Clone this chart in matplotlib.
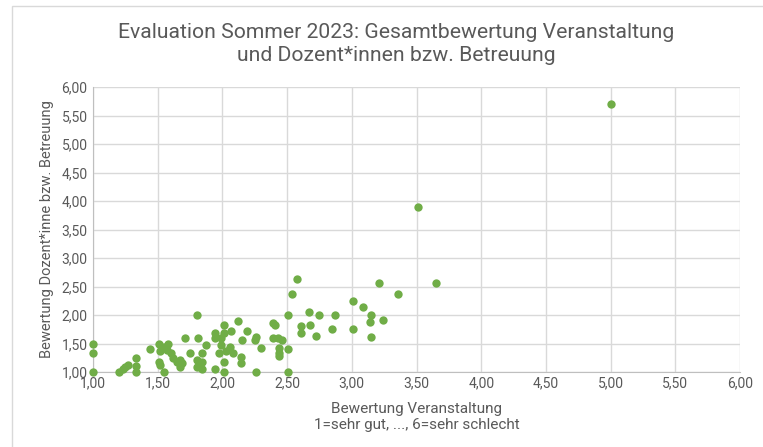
import matplotlib
matplotlib.use("Agg")
import matplotlib.pyplot as plt
from matplotlib.patches import Rectangle
from matplotlib.ticker import FuncFormatter, MultipleLocator

# Data: (Bewertung Veranstaltung, Bewertung Dozent*innen)
veranstaltung = [
    1.00, 1.00, 1.00, 1.20, 1.23, 1.25, 1.27, 1.33, 1.33, 1.33, 1.44,
    1.51, 1.55, 1.58, 1.52, 1.57, 1.60, 1.51, 1.52, 1.55, 1.62, 1.67, 1.69,
    1.67, 1.65, 1.71, 1.75, 1.81, 1.84, 1.80, 1.84, 1.80, 1.84, 1.80,
    1.87, 1.94, 1.94, 1.94, 1.97, 1.99, 1.99, 2.01, 2.01, 2.01, 2.01, 2.03,
    2.06, 2.07, 2.08, 2.12, 2.14, 2.14, 2.15, 2.19, 2.25, 2.26, 2.26, 2.30,
    2.39, 2.41, 2.39, 2.43, 2.46, 2.44, 2.51, 2.44, 2.44, 2.51, 2.51, 2.54,
    2.58, 2.61, 2.61, 2.67, 2.68, 2.72, 2.75,
    2.87, 2.85, 3.01, 3.01, 3.09, 3.14, 3.15, 3.15, 3.21, 3.24, 3.36, 3.51,
    3.65, 5.00,
]
dozent = [
    1.50, 1.33, 1.00, 1.00, 1.05, 1.09, 1.13, 1.25, 1.11, 1.00, 1.40,
    1.50, 1.44, 1.50, 1.36, 1.38, 1.33, 1.18, 1.12, 1.00, 1.24, 1.21, 1.15,
    1.09, 1.18, 1.59, 1.33, 1.59, 1.33, 1.21, 1.18, 1.09, 1.06, 2.00,
    1.48, 1.68, 1.59, 1.06, 1.33, 1.59, 1.47, 1.82, 1.68, 1.18, 1.00, 1.36,
    1.44, 1.72, 1.33, 1.89, 1.27, 1.15, 1.56, 1.72, 1.56, 1.62, 1.00, 1.42,
    1.86, 1.82, 1.59, 1.59, 1.56, 1.42, 1.40, 1.33, 1.28, 1.00, 2.00, 2.37,
    2.64, 1.81, 1.68, 2.05, 1.82, 1.63, 2.00,
    2.00, 1.76, 2.25, 1.76, 2.14, 1.87, 2.00, 1.62, 2.57, 1.91, 2.36, 3.90,
    2.57, 5.70,
]

title = "Evaluation Sommer 2023: Gesamtbewertung Veranstaltung\nund Dozent*innen bzw. Betreuung"
xlabel = "Bewertung Veranstaltung\n1=sehr gut, ..., 6=sehr schlecht"
ylabel = "Bewertung Dozent*inne bzw. Betreuung"

plt.rcParams['font.family'] = ['Roboto', 'DejaVu Sans']
W, H = 763, 447
fig = plt.figure(figsize=(W / 100, H / 100), dpi=100)
fig.patch.set_facecolor('white')

# chart-area border (only top/left visible in the crop)
fig.patches.append(Rectangle((12 / W, -0.1), 1.2, 1 - 6 / H + 0.1, transform=fig.transFigure,
                             fill=False, edgecolor='#D9D9D9', linewidth=1.0))

ax = fig.add_axes([93 / W, 1 - 372 / H, (740 - 93) / W, (372 - 87) / H])
ax.scatter(veranstaltung, dozent, s=36, color='#70AD47', zorder=3, linewidths=0, clip_on=False)
ax.set_xlim(1, 6)
ax.set_ylim(1, 6)
ax.xaxis.set_major_locator(MultipleLocator(0.5))
ax.yaxis.set_major_locator(MultipleLocator(0.5))
fmt = FuncFormatter(lambda v, p: f"{v:.2f}".replace('.', ','))
ax.xaxis.set_major_formatter(fmt)
ax.yaxis.set_major_formatter(fmt)
ax.grid(True, color='#D9D9D9', linewidth=1.0, zorder=0)
ax.set_axisbelow(True)
for s in ['top', 'right']:
    ax.spines[s].set_visible(False)
for s in ['left', 'bottom']:
    ax.spines[s].set_color('#BFBFBF')
ax.tick_params(axis='both', length=0, labelsize=10, colors='#595959', pad=4)
ax.tick_params(axis='x', pad=3)

fig.text(396 / W, 1 - 44 / H, title, ha='center', va='center', fontsize=15.2,
         color='#595959', linespacing=1.3)
fig.text((93 + 740) / 2 / W, 1 - 417 / H, xlabel, ha='center', va='center', fontsize=11,
         color='#595959', linespacing=1.2)
fig.text(47 / W, 1 - 229 / H, ylabel, ha='center', va='center', rotation=90,
         fontsize=10.5, color='#595959')

fig.savefig('out.png', dpi=100, facecolor='white')
